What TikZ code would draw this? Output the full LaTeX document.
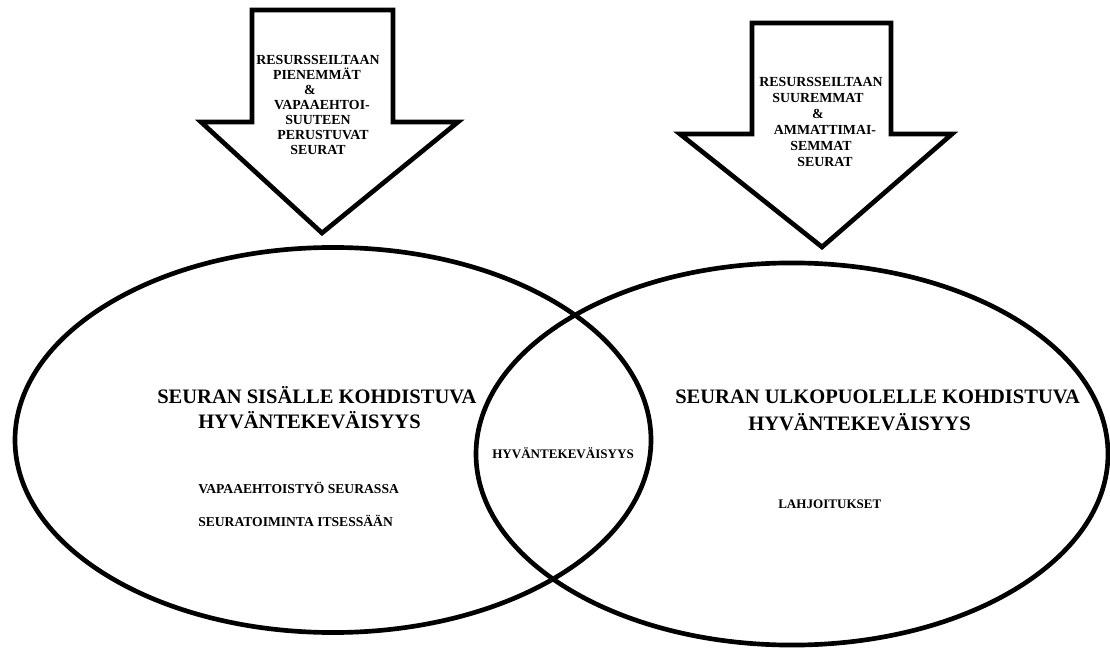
\documentclass[tikz,border=0pt]{standalone}
\usepackage{fontspec}
\setmainfont{Liberation Serif}
\begin{document}
\begin{tikzpicture}[x=0.75pt,y=-0.75pt,
  shape line/.style={draw=black,line width=3.5pt,line join=miter},
  bigtext/.style={anchor=base west,inner sep=0pt,font=\fontsize{15.4}{18}\selectfont\bfseries},
  smalltext/.style={anchor=base west,inner sep=0pt,font=\fontsize{9.8}{12}\selectfont\bfseries},
  listtext/.style={smalltext,font=\fontsize{10.2}{12}\selectfont\bfseries},
  arrtext/.style={anchor=base,inner sep=0pt,font=\fontsize{10.4}{12}\selectfont\bfseries}]
\useasboundingbox (0,0) rectangle (1110,648);
\fill[white] (0,0) rectangle (1110,648);

% Venn ellipses
\draw[shape line] (333,440) ellipse [x radius=238.5pt, y radius=144.4pt];
\draw[shape line] (792,454) ellipse [x radius=237pt, y radius=143.3pt];

% block arrows
\draw[shape line] (252,10) -- (393,10) -- (393,122) -- (458,122) -- (322,233) -- (201,122) -- (252,122) -- cycle;
\draw[shape line] (752,23) -- (891,23) -- (891,134) -- (952,134) -- (822,247) -- (680,134) -- (752,134) -- cycle;

% arrow texts
\foreach \x/\y/\t [count=\i] in {318/65/RESURSSEILTAAN, 317/80/PIENEMMÄT, 310/95/\&, 322/110/VAPAAEHTOI-, 318/125/SUUTEEN, 323/140/PERUSTUVAT, 318/155/SEURAT}
  \node[arrtext] (la\i) at (\x,\y) {\t};
\foreach \x/\y/\t [count=\i] in {821/87/RESURSSEILTAAN, 818/103/SUUREMMAT, 818/119/\&, 825/135/AMMATTIMAI-, 821/151/SEMMAT, 825/167/SEURAT}
  \node[arrtext] (ra\i) at (\x,\y) {\t};

% ellipse texts
\node[bigtext] (l1) at (157,403) {SEURAN SISÄLLE KOHDISTUVA};
\node[bigtext] (l2) at (198,429) {HYVÄNTEKEVÄISYYS};
\node[listtext] (l3) at (198,493) {VAPAAEHTOISTYÖ SEURASSA};
\node[listtext] (l4) at (198,526) {SEURATOIMINTA ITSESSÄÄN};

\node[smalltext] (m1) at (492,458) {HYVÄNTEKEVÄISYYS};

\node[bigtext] (r1) at (675,404) {SEURAN ULKOPUOLELLE KOHDISTUVA};
\node[bigtext] (r2) at (748,431) {HYVÄNTEKEVÄISYYS};
\node[smalltext] (r3) at (778,508) {LAHJOITUKSET};
\end{tikzpicture}
\end{document}
